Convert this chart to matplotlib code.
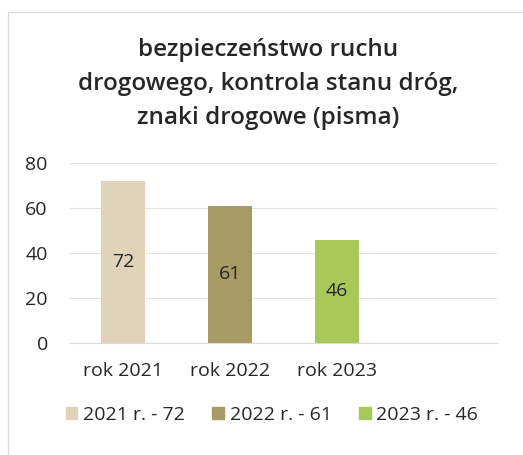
import matplotlib.pyplot as plt
from matplotlib.patches import Rectangle

categories = ["rok 2021", "rok 2022", "rok 2023", ""]
values = [72, 61, 46]
legend_labels = ["2021 r. - 72", "2022 r. - 61", "2023 r. - 46"]
bar_colors = ["#E0D3BA", "#A89A64", "#A8C95A"]
title = "bezpieczeństwo ruchu\ndrogowego, kontrola stanu dróg,\nznaki drogowe (pisma)"
yticks = [0, 20, 40, 60, 80]

plt.rcParams["font.family"] = ["Open Sans", "DejaVu Sans"]

W, H = 523, 455
fig = plt.figure(figsize=(W / 100, H / 100), dpi=100)

# chart frame
fig.patches.append(Rectangle((8 / W, -0.1), 1.2, 1 - 12 / H + 0.1, transform=fig.transFigure,
                             fill=False, edgecolor="#d9d9d9", linewidth=0.9))

ax = fig.add_axes([70 / W, 1 - 343 / H, 427 / W, 180 / H])
x = range(len(values))
ax.bar(x, values, width=0.41, color=bar_colors, zorder=2)
for i, v in enumerate(values):
    ax.text(i, v / 2, str(v), ha="center", va="center", fontsize=14, color="#262626", zorder=3)

ax.set_xlim(-0.5, len(categories) - 0.5)
ax.set_ylim(0, 80)
ax.set_yticks(yticks)
ax.set_xticks(range(len(categories)))
ax.set_xticklabels(categories)
ax.tick_params(axis="both", length=0, labelsize=14, labelcolor="#262626")
ax.tick_params(axis="y", pad=16)
ax.tick_params(axis="x", pad=14)
ax.grid(axis="y", color="#e4e4e4", linewidth=0.8, zorder=0)
for s in ["top", "right", "left"]:
    ax.spines[s].set_visible(False)
ax.spines["bottom"].set_color("#d9d9d9")

fig.text(268 / W, 1 - 84 / H, title, ha="center", va="center", fontsize=17.5,
         fontweight="semibold", color="#262626", linespacing=1.55)

handles = [Rectangle((0, 0), 1, 1, color=c) for c in bar_colors]
fig.legend(handles, legend_labels, loc="center", bbox_to_anchor=(272 / W, 1 - 415 / H),
           ncol=3, frameon=False, fontsize=14, handlelength=0.6, handleheight=0.6,
           handletextpad=0.3, columnspacing=1.4, labelcolor="#262626")

fig.savefig("out.png", dpi=100, facecolor="white")
